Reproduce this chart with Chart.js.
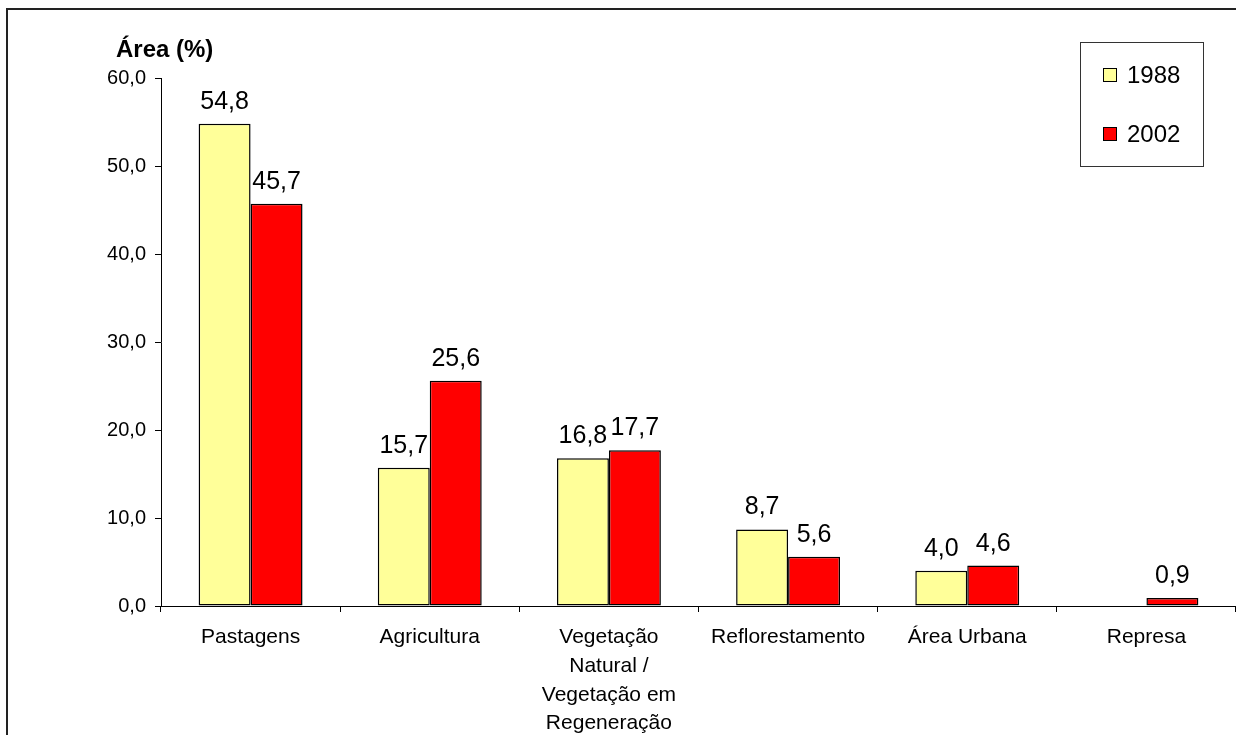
<!DOCTYPE html>
<html>
<head>
<meta charset="utf-8">
<script src="https://cdn.jsdelivr.net/npm/chart.js@4.4.1/dist/chart.umd.min.js"></script>
<style>
  body { margin: 0; background: #fff; }
  canvas { display: block; }
</style>
</head>
<body>
<canvas id="barChart" width="1236" height="735"></canvas>
<script>
const categorias = ['Pastagens', 'Agricultura', ['Vegetação', 'Natural /', 'Vegetação em', 'Regeneração'], 'Reflorestamento', 'Área Urbana', 'Represa'];
const anos = ['1988', '2002'];
const valores1988 = [54.8, 15.7, 16.8, 8.7, 4.0, null];
const valores2002 = [45.7, 25.6, 17.7, 5.6, 4.6, 0.9];
const tituloEixo = 'Área (%)';

const fonte = "'Liberation Sans', Arial, sans-serif";
const virgula = v => v.toFixed(1).replace('.', ',');

// moldura, titulo do eixo, rotulos e legenda
const extras = {
    id: 'extras',
    afterDraw(chart) {
        const c = chart.ctx;
        c.save();
        c.strokeStyle = '#222';
        c.lineWidth = 2;
        c.strokeRect(7, 9, 1400, 1000);

        c.fillStyle = '#000';
        c.font = 'bold 24px ' + fonte;
        c.textBaseline = 'alphabetic';
        c.textAlign = 'left';
        c.fillText(tituloEixo, 116, 57);

        // valores acima das barras
        c.font = '25px ' + fonte;
        c.textAlign = 'center';
        chart.data.datasets.forEach((ds, i) => {
            chart.getDatasetMeta(i).data.forEach((bar, j) => {
                const v = ds.data[j];
                if (v === null) return;
                c.fillText(virgula(v), bar.x, bar.y - 15);
            });
        });

        // legenda
        c.strokeStyle = '#333';
        c.lineWidth = 1;
        c.strokeRect(1080.5, 42.5, 123, 124);
        c.font = '24px ' + fonte;
        c.textAlign = 'left';
        c.textBaseline = 'middle';
        chart.data.datasets.forEach((ds, i) => {
            const y = 75 + i * 59;
            c.fillStyle = ds.backgroundColor;
            c.fillRect(1103, y - 7, 14, 14);
            c.strokeStyle = '#000';
            c.strokeRect(1103.5, y - 6.5, 13, 13);
            c.fillStyle = '#000';
            c.fillText(ds.label, 1127, y + 1);
        });
        c.restore();
    }
};

new Chart(document.getElementById('barChart'), {
    type: 'bar',
    data: {
        labels: categorias,
        datasets: [
            {
                label: anos[0],
                data: valores1988,
                backgroundColor: '#FFFF99',
                borderColor: '#000',
                borderWidth: 1.5,
                borderSkipped: false
            },
            {
                label: anos[1],
                data: valores2002,
                backgroundColor: '#FF0000',
                borderColor: '#000',
                borderWidth: 1.5,
                borderSkipped: false
            }
        ]
    },
    options: {
        responsive: false,
        animation: false,
        devicePixelRatio: 1,
        layout: { padding: { top: 78, left: 0, right: 0, bottom: 0 } },
        datasets: { bar: { categoryPercentage: 0.58, barPercentage: 1 } },
        scales: {
            x: {
                grid: { offset: true, drawOnChartArea: false, color: '#000', tickLength: 6 },
                border: { color: '#000', width: 1 },
                ticks: {
                    color: '#000',
                    padding: 11,
                    maxRotation: 0,
                    autoSkip: false,
                    font: { family: fonte, size: 21, lineHeight: 1.37 }
                },
                afterFit(scale) { scale.height = 129; }
            },
            y: {
                min: 0,
                max: 60,
                grid: { drawOnChartArea: false, color: '#000', tickLength: 6 },
                border: { color: '#000', width: 1 },
                ticks: {
                    stepSize: 10,
                    color: '#000',
                    padding: 9,
                    font: { family: fonte, size: 20 },
                    callback: v => virgula(v)
                },
                afterFit(scale) { scale.width = 161; }
            }
        },
        plugins: {
            legend: { display: false },
            tooltip: { enabled: false }
        }
    },
    plugins: [extras]
});
</script>
</body>
</html>
